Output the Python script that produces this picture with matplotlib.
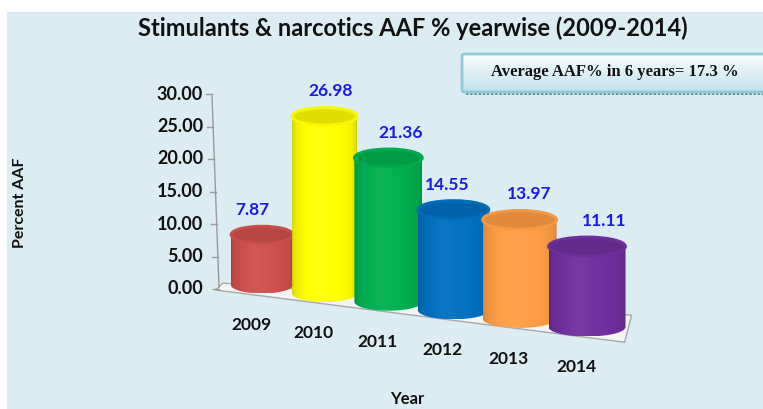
import numpy as np
import matplotlib
matplotlib.use('Agg')
import matplotlib.pyplot as plt
from matplotlib.path import Path
from matplotlib.patches import PathPatch, Ellipse, Rectangle, FancyBboxPatch, Polygon
from matplotlib.colors import to_rgb

# data
years = ['2009', '2010', '2011', '2012', '2013', '2014']
aaf = [7.87, 26.98, 21.36, 14.55, 13.97, 11.11]
colors = ['#cf504c', '#ffff00', '#00b04f', '#0070c0', '#ff9d45', '#7030a0']
yticks = [0, 5, 10, 15, 20, 25, 30]
title = 'Stimulants & narcotics AAF % yearwise (2009-2014)'
note = 'Average AAF% in 6 years= 17.3 %'

BG = '#dbedf3'
W, H = 763, 409

# fake perspective of the excel 3d chart (pixel canvas)
def cx(i):
    return 262 + 62 * i + 0.6 * i * i

def base(i):
    return 285 + 8.4 * i

def hw(i):
    return (62 + 3 * i) / 2

def hh(i):
    return 8.5 + 0.2 * i

def scale(i):
    return 6.4 + 0.17 * i

def shade(c, f):
    c = np.array(to_rgb(c))
    if f <= 1:
        return c * f
    return c + (1 - c) * (f - 1)


fig = plt.figure(figsize=(W / 100, H / 100), dpi=100)
ax = fig.add_axes([0, 0, 1, 1])
ax.set_xlim(0, W)
ax.set_ylim(H, 0)
ax.axis('off')

ax.add_patch(Rectangle((7, 12), W, H, color=BG, zorder=0))

# floor
n = len(aaf)
fl, fr = -0.75, n - 0.45
front = [(cx(fl), base(fl) + hh(fl) + 3), (cx(fr), base(fr) + hh(fr) + 1)]
back = [(front[1][0] + 7, front[1][1] - 27), (front[0][0] + 7, front[0][1] - 7)]
ax.add_patch(Polygon(front + back, closed=True, facecolor='#f2f4f5',
                     edgecolor='#a8a8a8', lw=1, zorder=1))

# y axis
a0, asc = 289, 6.5
ax.plot([212, 219], [a0 - 30 * asc + 2, a0 - 2], color='#9a9a9a', lw=1, zorder=1)
for t in yticks:
    ty = a0 - t * asc
    tx = 212 + 7 * (1 - t / 30)
    ax.plot([tx - 6, tx], [ty, ty], color='#9a9a9a', lw=1, zorder=1)
    ax.text(203, ty, '%.2f' % t, ha='right', va='center', fontsize=13,
            fontweight='bold', family='Lato', color='#111111')

# cylinders
u = np.linspace(0, 1, 160)
prof = 0.78 + 0.24 * np.sin(np.pi * u) ** 0.3 + 0.03 * np.exp(-((u - 0.35) / 0.15) ** 2)
lab_dx = [-10, 6, 12, -6, 10, 17]
for i, (v, c) in enumerate(zip(aaf, colors)):
    x0, y0, r, e = cx(i), base(i), hw(i), hh(i)
    top = y0 - v * scale(i)
    th = np.linspace(0, np.pi, 60)
    verts = [(x0 - r, top), (x0 - r, y0)]
    verts += list(zip(x0 - r * np.cos(th), y0 + e * np.sin(th)))
    verts += [(x0 + r, top), (x0 - r, top)]
    codes = [Path.MOVETO] + [Path.LINETO] * (len(verts) - 2) + [Path.CLOSEPOLY]
    body = PathPatch(Path(verts, codes), facecolor='none', edgecolor='none', zorder=3 + i)
    ax.add_patch(body)
    grad = np.array([[shade(c, f) for f in prof]])
    im = ax.imshow(grad, extent=(x0 - r, x0 + r, y0 + e, top), aspect='auto',
                   interpolation='bicubic', zorder=3 + i)
    im.set_clip_path(body)
    ax.add_patch(Ellipse((x0, top), 2 * r, 2 * e, facecolor=shade(c, 0.9),
                         edgecolor=shade(c, 0.97), lw=2, zorder=3 + i))
    ax.add_patch(Ellipse((x0, top + 0.5), 2 * r - 5, 2 * e - 4, facecolor=shade(c, 0.88),
                         edgecolor='none', zorder=3 + i))
    ax.text(x0 + lab_dx[i], top - e - 16, '%.2f' % v, ha='center', va='center',
            fontsize=12.5, fontweight='bold', family='Lato', color='#1a1ae6', zorder=10)
    ax.text(x0 - 11, y0 + 40, years[i], ha='center', va='center', fontsize=12.5,
            fontweight='bold', family='Lato', color='#111111')

# titles
ax.text(413, 28, title, ha='center', va='center', fontsize=17,
        fontweight='bold', family='Lato', color='#111111')
ax.text(20, 203, 'Percent AAF', rotation=90, ha='center', va='center',
        fontsize=11.5, fontweight='bold', family='Lato', color='#111111')
ax.text(407, 399, 'Year', ha='center', va='center', fontsize=12,
        fontweight='bold', family='Lato', color='#111111')

# average box
ax.plot([466, W], [94, 94], color='#5a6e78', lw=1.2, ls=(0, (1.5, 1)), zorder=5)
box = FancyBboxPatch((462, 54), W - 462 + 10, 38, boxstyle='round,pad=0,rounding_size=2',
                     facecolor='none', edgecolor='#8fcadb', lw=2, zorder=6)
ax.add_patch(box)
vg = np.linspace(0, 1, 50)[:, None]
top_c, bot_c = np.array(to_rgb('#fbfdfe')), np.array(to_rgb('#bfe2ec'))
g = top_c[None, None, :] * (1 - vg[:, :, None]) + bot_c[None, None, :] * vg[:, :, None]
im = ax.imshow(g, extent=(462, W + 10, 92, 54), aspect='auto', zorder=5)
im.set_clip_path(box)
ax.text(615, 72, note, ha='center', va='center', fontsize=12, fontweight='bold',
        family='Liberation Serif', color='#111111', zorder=7)

ax.set_xlim(0, W)
ax.set_ylim(H, 0)
fig.savefig('out.png', dpi=100)
